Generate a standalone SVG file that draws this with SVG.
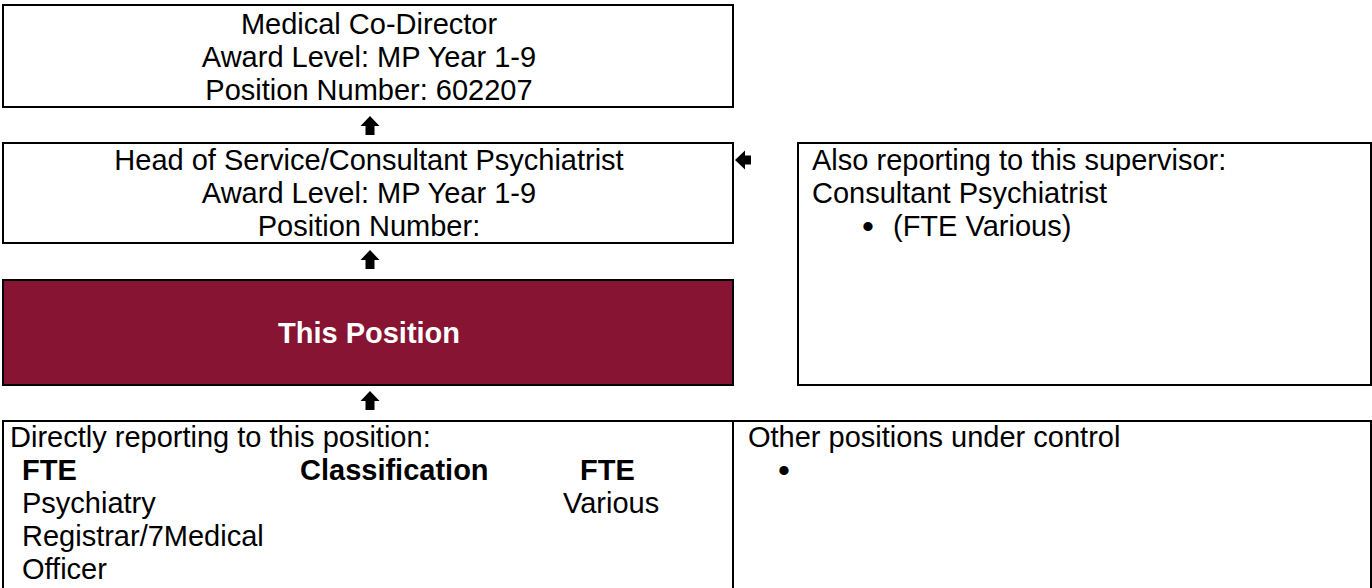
<svg xmlns="http://www.w3.org/2000/svg" width="1372" height="588" viewBox="0 0 1372 588">
  <style>
    .box { fill: #ffffff; stroke: #000000; stroke-width: 2; }
    .pos { fill: #861432; stroke: #000000; stroke-width: 2; }
    .t { font-family: "Liberation Sans", Arial, sans-serif; font-size: 29px; fill: #000000; }
    .c { text-anchor: middle; }
    .b { font-weight: bold; }
    .w { fill: #ffffff; }
    .bul { font-size: 34px; }
    .arrow { fill: #000000; }
  </style>
  <rect x="0" y="0" width="1372" height="588" fill="#ffffff"/>

  <g id="medical-co-director">
    <rect class="box" x="3" y="5" width="730" height="102"/>
    <text class="t c" x="369" y="34">Medical Co-Director</text>
    <text class="t c" x="369" y="67">Award Level: MP Year 1-9</text>
    <text class="t c" x="369" y="100">Position Number: 602207</text>
  </g>

  <g id="head-of-service">
    <rect class="box" x="3" y="143" width="730" height="100"/>
    <text class="t c" x="369" y="170">Head of Service/Consultant Psychiatrist</text>
    <text class="t c" x="369" y="203">Award Level: MP Year 1-9</text>
    <text class="t c" x="369" y="236">Position Number:</text>
  </g>

  <g id="this-position">
    <rect class="pos" x="3" y="280" width="730" height="105"/>
    <text class="t c b w" x="369" y="343">This Position</text>
  </g>

  <g id="also-reporting">
    <rect class="box" x="798" y="143" width="573" height="242"/>
    <text class="t" x="812" y="170">Also reporting to this supervisor:</text>
    <text class="t" x="812" y="203">Consultant Psychiatrist</text>
    <text class="t bul" x="862" y="238">•</text>
    <text class="t" x="893" y="236">(FTE Various)</text>
  </g>

  <g id="directly-reporting">
    <rect class="box" x="3" y="421" width="730" height="180"/>
    <text class="t" x="10" y="447">Directly reporting to this position:</text>
    <text class="t b" x="22" y="480">FTE</text>
    <text class="t b" x="300" y="480">Classification</text>
    <text class="t b" x="580" y="480">FTE</text>
    <text class="t" x="22" y="513">Psychiatry</text>
    <text class="t" x="563" y="513">Various</text>
    <text class="t" x="22" y="546">Registrar/7Medical</text>
    <text class="t" x="22" y="579">Officer</text>
  </g>

  <g id="other-positions">
    <rect class="box" x="733" y="421" width="638" height="180"/>
    <text class="t" x="748" y="447">Other positions under control</text>
    <text class="t bul" x="778" y="482">•</text>
  </g>

  <g id="connectors">
    <path class="arrow" d="M370 116 L379.5 126 L374.5 126 L374.5 135 L365.5 135 L365.5 126 L360.5 126 Z"/>
    <path class="arrow" d="M370 250 L379.5 260 L374.5 260 L374.5 269 L365.5 269 L365.5 260 L360.5 260 Z"/>
    <path class="arrow" d="M370 391 L379.5 401 L374.5 401 L374.5 410 L365.5 410 L365.5 401 L360.5 401 Z"/>
    <path class="arrow" d="M735 160 L745 150.5 L745 155.5 L751 155.5 L751 164.5 L745 164.5 L745 169.5 Z"/>
  </g>
</svg>
